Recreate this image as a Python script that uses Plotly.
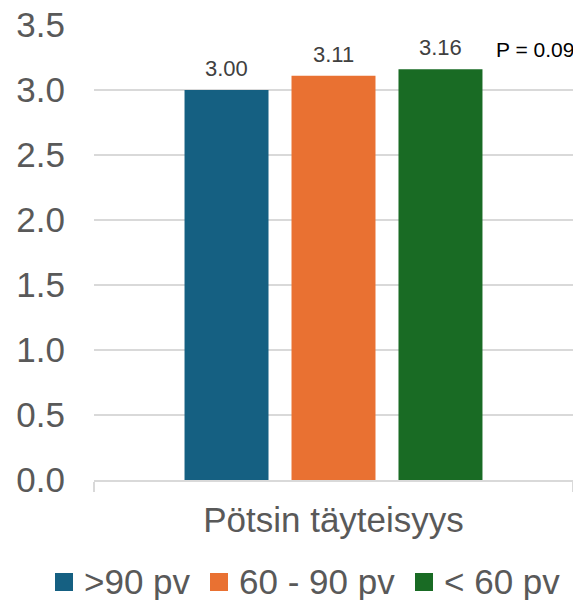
import plotly.graph_objects as go

categories = ["Pötsin täyteisyys"]
series_names = [">90 pv", "60 - 90 pv", "< 60 pv"]
series_values = [[3.00], [3.11], [3.16]]
colors = ["#156082", "#E97132", "#196B24"]
p_text = "P = 0.09"
y_ticks = [0, 0.5, 1.0, 1.5, 2.0, 2.5, 3.0, 3.5]

W, H = 573, 600
ML, MR, MT, MB = 94, 0, 25, 120
PW, PH = W - ML - MR, H - MT - MB
FONT = "Arial, Liberation Sans, sans-serif"
BARGAP, GROUPGAP = 0.33, 0.215

def px_x(px):
    return (px - ML) / PW

def px_y(py):
    return (H - MB - py) / PH

fig = go.Figure()
annotations = []
n = len(series_names)
slot = PW * (1 - BARGAP) / n
for i, (name, vals, col) in enumerate(zip(series_names, series_values, colors)):
    fig.add_trace(go.Bar(
        x=categories, y=vals, name=name, marker_color=col,
        marker_line_width=0, showlegend=False,
    ))
    for c, v in zip(categories, vals):
        annotations.append(dict(
            text=f"{v:.2f}", xref="x", yref="y", x=c, y=v,
            xshift=(i - (n - 1) / 2) * slot, yshift=7,
            xanchor="center", yanchor="bottom", showarrow=False,
            font=dict(size=22, color="#404040", family=FONT)))

# manual legend
sq_left = [55, 210, 415]
txt_left = [82, 237, 442]
shapes = []
for name, col, sx, tx in zip(series_names, colors, sq_left, txt_left):
    shapes.append(dict(type="rect", xref="paper", yref="paper",
                       x0=px_x(sx), x1=px_x(sx + 18), y0=px_y(591), y1=px_y(573),
                       fillcolor=col, line_width=0))
    annotations.append(dict(text=name, xref="paper", yref="paper",
                            x=px_x(tx), y=px_y(581), xanchor="left", yanchor="middle",
                            showarrow=False, font=dict(size=35, color="#595959", family=FONT)))

annotations.append(dict(text=p_text, xref="paper", yref="paper",
                        x=px_x(494), y=px_y(49), xanchor="left", yanchor="middle",
                        showarrow=False, font=dict(size=21, color="#000000", family=FONT)))

fig.update_layout(
    width=W, height=H,
    margin=dict(l=ML, r=MR, t=MT, b=MB, pad=0),
    plot_bgcolor="white", paper_bgcolor="white",
    barmode="group", bargap=BARGAP, bargroupgap=GROUPGAP,
    font=dict(family=FONT, color="#595959"),
    shapes=shapes, annotations=annotations,
    showlegend=False,
)
fig.update_xaxes(
    type="category", showline=True, linecolor="#D9D9D9", linewidth=1.5,
    ticks="outside", tickson="boundaries", ticklen=10, tickcolor="#D9D9D9", tickwidth=1.5,
    tickfont=dict(size=35, color="#595959", family=FONT),
    ticklabelstandoff=8,
    showgrid=False,
)
fig.update_yaxes(
    range=[0, 3.5], tickvals=y_ticks, tickformat=".1f",
    showgrid=True, gridcolor="#D9D9D9", gridwidth=1.5,
    zeroline=False, showline=False, ticks="",
    ticklabelstandoff=28,
    tickfont=dict(size=35, color="#595959", family=FONT),
)

fig.write_html("out.html")
